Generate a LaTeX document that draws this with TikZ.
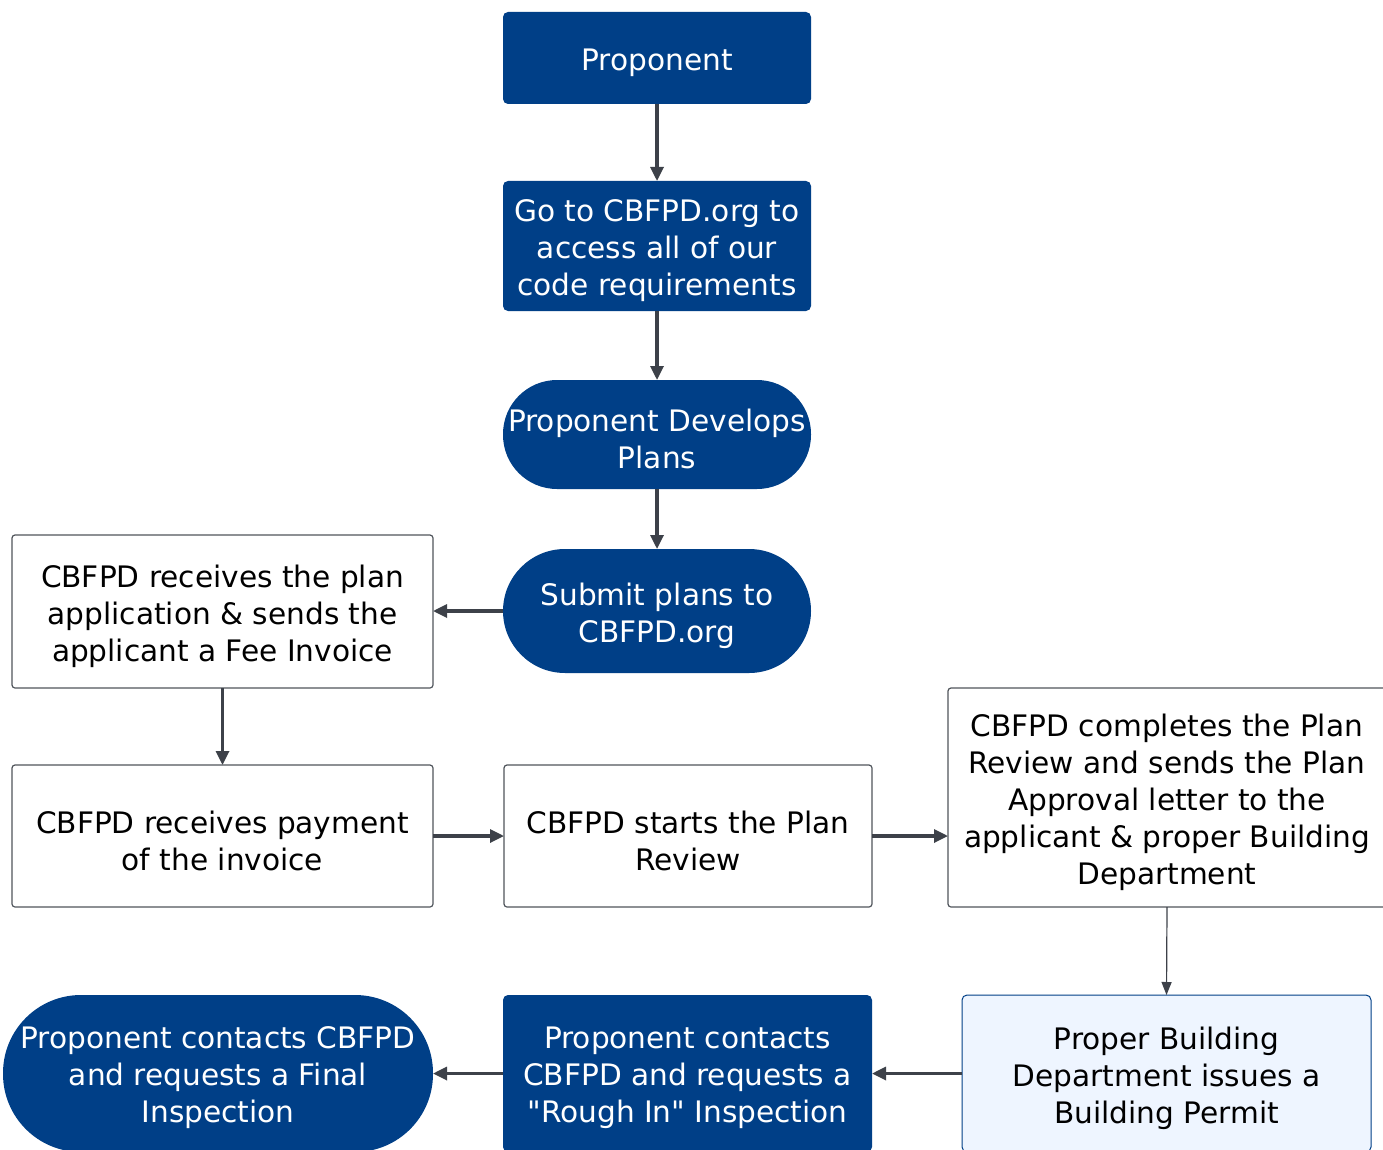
\documentclass[tikz,border=0pt]{standalone}
\usepackage{fontspec}
\setmainfont{DejaVu Sans}[Ligatures=TeXOff]
\usetikzlibrary{arrows.meta}
\definecolor{navy}{HTML}{003F87}
\definecolor{linegray}{HTML}{3D4149}
\definecolor{boxgray}{HTML}{50555C}
\definecolor{paleblue}{HTML}{EEF5FF}
\begin{document}
\begin{tikzpicture}[x=1pt,y=-1pt,
  txt/.style={font=\fontsize{29.6}{37}\selectfont, align=center, inner sep=0pt, yshift=-4.5pt},
  wtxt/.style={txt, text=white},
  btxt/.style={txt, text=black},
  boxbase/.style={inner sep=0pt, outer sep=0pt},
  darkbox/.style={boxbase, fill=navy, rounded corners=5pt},
  pill/.style={boxbase, fill=navy},
  plainbox/.style={boxbase, fill=white, draw=boxgray, line width=1.2pt, rounded corners=3pt},
  softbox/.style={boxbase, fill=paleblue, draw=navy, line width=1pt, rounded corners=5pt},
  arr/.style={draw=linegray, line width=3.2pt, -{Triangle[length=14pt,width=13pt]}},
  thinarr/.style={draw=linegray, line width=1.2pt, -{Triangle[length=13pt,width=10pt]}}]
\useasboundingbox (0,0) rectangle (1383,1150);
\clip (0,0) rectangle (1383,1150);
\fill[white] (0,0) rectangle (1383,1150);

% upper column of steps
\node[darkbox, minimum width=308pt, minimum height=92pt,
  label={[wtxt]center:Proponent}] (prop) at (657,58) {};
\node[darkbox, minimum width=308pt, minimum height=130pt,
  label={[wtxt]center:{Go to CBFPD.org to\\access all of our\\code requirements}}] (site) at (657,246) {};
\node[pill, minimum width=308pt, minimum height=109pt, rounded corners=54pt,
  label={[wtxt]center:{Proponent Develops\\Plans}}] (dev) at (657,434.5) {};
\node[pill, minimum width=308pt, minimum height=124pt, rounded corners=62pt,
  label={[wtxt]center:{Submit plans to\\CBFPD.org}}] (sub) at (657,611) {};

% review steps
\node[plainbox, minimum width=421pt, minimum height=153pt,
  label={[btxt]center:{CBFPD receives the plan\\application \& sends the\\applicant a Fee Invoice}}] (recv) at (222.5,611.5) {};
\node[plainbox, minimum width=421pt, minimum height=142pt,
  label={[btxt]center:{CBFPD receives payment\\of the invoice}}] (pay) at (222.5,836) {};
\node[plainbox, minimum width=368pt, minimum height=142pt,
  label={[btxt]center:{CBFPD starts the Plan\\Review}}] (start) at (688,836) {};
\node[plainbox, minimum width=438pt, minimum height=219pt,
  label={[btxt]center:{CBFPD completes the Plan\\Review and sends the Plan\\Approval letter to the\\applicant \& proper Building\\Department}}] (done) at (1167,797.5) {};

% permit and inspections
\node[softbox, minimum width=409pt, minimum height=157pt,
  label={[btxt]center:{Proper Building\\Department issues a\\Building Permit}}] (permit) at (1166.5,1073.5) {};
\node[darkbox, minimum width=369pt, minimum height=157pt,
  label={[wtxt]center:{Proponent contacts\\CBFPD and requests a\\"Rough In" Inspection}}] (rough) at (687.5,1073.5) {};
\node[pill, minimum width=430pt, minimum height=157pt, rounded corners=78pt,
  label={[wtxt]center:{Proponent contacts CBFPD\\and requests a Final\\Inspection}}] (final) at (218,1073.5) {};

% connectors
\draw[arr] (prop.south) -- (site.north);
\draw[arr] (site.south) -- (dev.north);
\draw[arr] (dev.south) -- (sub.north);
\draw[arr] (sub.west) -- (sub.west -| recv.east);
\draw[arr] (recv.south) -- (pay.north);
\draw[arr] (pay.east) -- (start.west);
\draw[arr] (start.east) -- (start.east -| done.west);
\draw[thinarr] (done.south) -- (permit.north);
\draw[arr] (permit.west) -- (rough.east);
\draw[arr] (rough.west) -- (final.east);
\end{tikzpicture}
\end{document}
